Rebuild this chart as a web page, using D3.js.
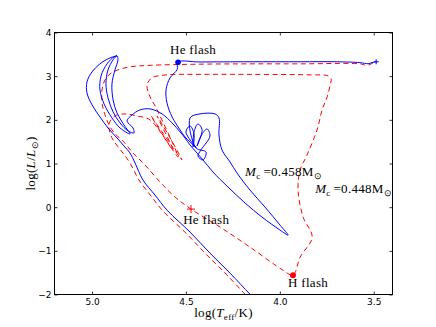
<!DOCTYPE html>
<html>
<head>
<meta charset="utf-8">
<script src="https://cdn.jsdelivr.net/npm/d3@7"></script>
<style>
  body { margin: 0; background: #fff; }
  svg { display: block; }
  .tick text { font-family: "DejaVu Sans", sans-serif; font-size: 9px; fill: #000; }
  .tick line { stroke: #000; stroke-width: 0.8; }
  .lbl { font-family: "Liberation Serif", serif; font-size: 13px; fill: #000; letter-spacing: 0.3px; }
</style>
</head>
<body>
<div id="chart"></div>
<script>
// --- track data, [log Teff, log L] ---
// Mc = 0.458 (blue, solid): RGB tip -> flash on the way to the left, then settling
const blueRgb = [[3.487,3.33],[3.509,3.31],[3.530,3.285],[3.573,3.31],[3.70,3.33],[3.892,3.33],[4.159,3.33],[4.425,3.325],[4.542,3.32]];
const blueDrop = [[4.547,3.15],[4.585,2.961],[4.606,2.686],[4.601,2.388],[4.574,2.067],[4.531,1.768],[4.505,1.608],[4.478,1.493],[4.446,1.356]];
const blueKnot = [[4.500,1.722],[4.478,1.860],[4.457,1.677],[4.462,1.378],
                  [4.457,1.722],[4.436,1.906],[4.414,1.768],[4.441,1.401],
                  [4.420,1.631],[4.388,1.791],[4.372,1.631],[4.420,1.310],
                  [4.436,1.172],[4.409,1.080],[4.393,1.264],[4.446,1.356],
                  [4.478,2.044],[4.425,2.135],[4.345,2.135],[4.324,2.044]];
const blueTongue = [[4.324,1.654],[4.308,1.310],[4.265,1.034],[4.228,0.782],[4.159,0.392],[4.079,0.002],[3.999,-0.411],[3.956,-0.640],[3.999,-0.525],[4.095,-0.227],[4.185,0.094],[4.276,0.461],[4.356,0.805],[4.409,1.080],[4.446,1.264],[4.478,1.424],[4.505,1.585],[4.531,1.722],[4.574,1.929],[4.627,2.135],[4.691,2.250],[4.745,2.227],[4.787,2.112],[4.814,1.975]];
const blueLoops = [[4.782,1.814],[4.777,1.700],[4.808,1.745],[4.851,1.929],[4.888,2.181],[4.915,2.502],[4.926,2.823],[4.915,3.144],[4.888,3.374],[4.867,3.466],[4.862,3.374],[4.878,3.144],[4.894,2.823],[4.888,2.456],[4.867,2.158],[4.830,1.883],[4.798,1.677],[4.851,1.814],[4.894,2.044],[4.936,2.365],[4.958,2.686],[4.952,3.007],[4.920,3.282],[4.883,3.443],[4.867,3.466]];
const blueFall = [[4.904,3.420],[4.958,3.282],[5.000,3.099],[5.027,2.869],[5.027,2.617],[5.000,2.342],[4.958,2.067],[4.915,1.814],[4.867,1.585],[4.830,1.401],[4.798,1.241],[4.771,1.011],[4.729,0.622],[4.665,0.278],[4.601,-0.067],[4.478,-0.571],[4.372,-1.053],[4.265,-1.511],[4.159,-1.993],[4.116,-2.177]];

// Mc = 0.448 (red, dashed): flash on the cooling track, H flash, back up
const redRgb = [[3.503,3.305],[3.535,3.248],[3.573,3.282],[3.892,3.282],[4.159,3.282],[4.425,3.275],[4.691,3.248],[4.798,3.213],[4.862,3.144],[4.904,3.053],[4.931,2.915],[4.947,2.686],[4.947,2.388],[4.931,2.112],[4.904,1.837],[4.872,1.654],[4.840,1.539],[4.782,1.241],[4.718,0.966],[4.638,0.576],[4.558,0.232],[4.473,-0.044]];
const redCool = [[4.318,-0.456],[4.159,-0.915],[3.983,-1.443],[3.930,-1.557]];
const redRise = [[3.892,-1.144],[3.828,-0.686],[3.876,-0.227],[3.903,0.392],[3.892,0.851],[3.855,1.195],[3.802,1.768],[3.775,2.227],[3.748,2.525],[3.732,2.800],[3.727,2.938],[3.743,3.007],[3.839,3.030],[4.159,3.041],[4.425,3.041],[4.601,3.030],[4.681,2.961],[4.707,2.800],[4.691,2.525],[4.659,2.273]];
const redKnot = [[4.542,1.149],[4.686,2.089],[4.521,1.080],[4.654,2.089],[4.569,1.310],[4.691,1.998]];
const redTail = [[4.761,2.089],[4.824,2.135],[4.878,2.089],[4.910,1.906],[4.904,1.700],[4.888,1.539],[4.840,1.264],[4.798,1.011],[4.750,0.622],[4.686,0.255],[4.622,-0.089],[4.500,-0.594],[4.393,-1.076],[4.286,-1.534],[4.180,-2.016],[4.160,-2.100]];

// flash points
const heFlashBlue = [4.542, 3.32];
const heFlashRed = [4.473, -0.044];
const hFlashRed = [3.930, -1.557];
const tipBlue = [3.487, 3.33];

const xTicks = [5.0, 4.5, 4.0, 3.5];
const yTicks = [-2, -1, 0, 1, 2, 3, 4];

// --- layout ---
const width = 436;
const height = 327;
const x = d3.scaleLinear().domain([5.2, 3.4]).range([54.5, 392.5]);
const y = d3.scaleLinear().domain([-2, 4]).range([294.5, 32.5]);

const svg = d3.select('#chart').append('svg')
    .attr('width', width)
    .attr('height', height);

svg.append('clipPath').attr('id', 'plot-clip')
  .append('rect')
    .attr('x', x(5.2)).attr('y', y(4))
    .attr('width', x(3.4) - x(5.2)).attr('height', y(-2) - y(4));

const line = d3.line()
    .x(d => x(d[0]))
    .y(d => y(d[1]))
    .curve(d3.curveCatmullRom.alpha(0.5));

const tracks = svg.append('g').attr('clip-path', 'url(#plot-clip)');

tracks.append('path')
    .datum([].concat(redRgb, redCool, redRise, redKnot, redTail))
    .attr('fill', 'none')
    .attr('stroke', '#ff0000')
    .attr('stroke-width', 1)
    .attr('stroke-dasharray', '5,3.5')
    .attr('d', line);

tracks.append('path')
    .datum([].concat(blueRgb, blueDrop, blueKnot, blueTongue, blueLoops, blueFall))
    .attr('fill', 'none')
    .attr('stroke', '#0000ff')
    .attr('stroke-width', 1)
    .attr('d', line);

// markers
tracks.append('circle')
    .attr('cx', x(heFlashBlue[0])).attr('cy', y(heFlashBlue[1]))
    .attr('r', 2.8).attr('fill', '#0000ff');
tracks.append('circle')
    .attr('cx', x(hFlashRed[0])).attr('cy', y(hFlashRed[1]))
    .attr('r', 3).attr('fill', '#ff0000');

function plus(p, size, color) {
  const cx = x(p[0]), cy = y(p[1]);
  tracks.append('path')
      .attr('d', `M${cx - size},${cy}H${cx + size}M${cx},${cy - size}V${cy + size}`)
      .attr('stroke', color).attr('stroke-width', 1).attr('fill', 'none');
}
plus(heFlashRed, 4, '#ff0000');
plus(tipBlue, 2.5, '#0000ff');

// --- axes (ticks pointing in, on all four sides) ---
const noLabel = () => '';
svg.append('g')
    .attr('transform', `translate(0,${y(-2)})`)
    .call(d3.axisBottom(x).tickValues(xTicks).tickFormat(d3.format('.1f'))
      .tickSizeInner(-3).tickSizeOuter(0).tickPadding(4))
    .call(g => g.select('.domain').remove());
svg.append('g')
    .attr('transform', `translate(0,${y(4)})`)
    .call(d3.axisTop(x).tickValues(xTicks).tickFormat(noLabel)
      .tickSizeInner(-3).tickSizeOuter(0))
    .call(g => g.select('.domain').remove());
svg.append('g')
    .attr('transform', `translate(${x(5.2)},0)`)
    .call(d3.axisLeft(y).tickValues(yTicks).tickFormat(d3.format('d'))
      .tickSizeInner(-3).tickSizeOuter(0).tickPadding(3))
    .call(g => g.select('.domain').remove());
svg.append('g')
    .attr('transform', `translate(${x(3.4)},0)`)
    .call(d3.axisRight(y).tickValues(yTicks).tickFormat(noLabel)
      .tickSizeInner(-3).tickSizeOuter(0))
    .call(g => g.select('.domain').remove());

svg.append('rect')
    .attr('x', x(5.2)).attr('y', y(4))
    .attr('width', x(3.4) - x(5.2)).attr('height', y(-2) - y(4))
    .attr('fill', 'none').attr('stroke', '#000').attr('stroke-width', 1);

// --- annotations ---
svg.append('text').attr('class', 'lbl')
    .attr('x', x(4.462)).attr('y', y(3.511))
    .attr('text-anchor', 'middle')
    .text('He flash');
svg.append('text').attr('class', 'lbl')
    .attr('x', x(4.515)).attr('y', y(-0.388))
    .text('He flash');
svg.append('text').attr('class', 'lbl')
    .attr('x', x(3.956)).attr('y', y(-1.833))
    .text('H flash');

function massLabel(px, py, value) {
  const t = svg.append('text').attr('class', 'lbl').attr('x', x(px)).attr('y', y(py));
  t.append('tspan').style('font-style', 'italic').text('M');
  t.append('tspan').attr('dy', 3).style('font-size', '9px').text('c');
  t.append('tspan').attr('dy', -3).text('\u2009=' + value + 'M');
  t.append('tspan').attr('dy', 3).style('font-size', '9px').text('\u2299');
}
massLabel(4.185, 0.713, '0.458');
massLabel(3.812, 0.323, '0.448');

// axis titles
const xl = svg.append('text').attr('class', 'lbl')
    .attr('x', (x(5.2) + x(3.4)) / 2).attr('y', 317)
    .attr('text-anchor', 'middle');
xl.append('tspan').text('log(');
xl.append('tspan').style('font-style', 'italic').text('T');
xl.append('tspan').attr('dy', 3).style('font-size', '9px').text('eff');
xl.append('tspan').attr('dy', -3).text('/K)');

const yl = svg.append('text').attr('class', 'lbl')
    .attr('transform', `translate(35,${(y(4) + y(-2)) / 2}) rotate(-90)`)
    .attr('text-anchor', 'middle');
yl.append('tspan').text('log(');
yl.append('tspan').style('font-style', 'italic').text('L');
yl.append('tspan').text('/');
yl.append('tspan').style('font-style', 'italic').text('L');
yl.append('tspan').attr('dy', 3).style('font-size', '9px').text('\u2299');
yl.append('tspan').attr('dy', -3).text(')');
</script>
</body>
</html>
